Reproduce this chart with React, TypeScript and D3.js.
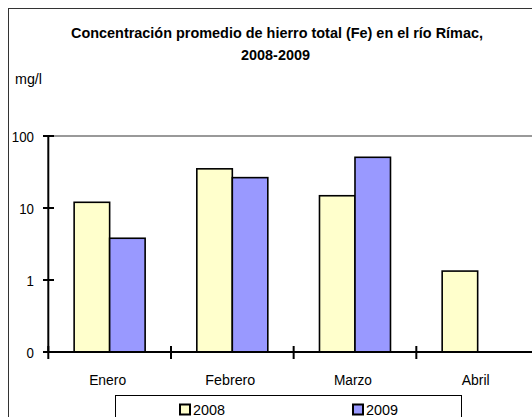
import React from "react";
import * as d3 from "d3";

const categories = ["Enero", "Febrero", "Marzo", "Abril"];
const seriesNames = ["2008", "2009"];
const values2008: (number | null)[] = [12, 35, 14.8, 1.33];
const values2009: (number | null)[] = [3.8, 26.4, 50.6, null];
const yTickValues = [0.1, 1, 10, 100];
const yTickLabels = ["0", "1", "10", "100"];
const colors = ["#FFFFCC", "#9999FF"];

const FONT = "'Liberation Sans', Arial, sans-serif";

export default function App() {
  const W = 532, H = 417;
  const left = 48.3, right = 539, top = 136, bottom = 352;
  const y = d3.scaleLog().domain([0.1, 100]).range([bottom, top]);
  const x = d3.scaleBand<string>().domain(categories).range([left, right]).paddingInner(0).paddingOuter(0);
  const x1 = d3.scaleBand<string>().domain(seriesNames).range([0, x.bandwidth()]).paddingInner(0).paddingOuter(0.728);
  const series = [values2008, values2009];
  const catWidths: Record<string, number> = { Enero: 37, Febrero: 50, Marzo: 38, Abril: 28 };
  const catCenters = categories.map((c) => (x(c) as number) + x.bandwidth() / 2 - 2);
  const tickBoundaries = d3.range(categories.length + 1).map((i) => left + i * x.step());

  return (
    <svg width={W} height={H} style={{ position: "absolute", left: 0, top: 0, display: "block", background: "#fff" }}>
      <rect x={0} y={0} width={W} height={H} fill="#fff" />
      <rect x={8.5} y={8.5} width={700} height={700} fill="none" stroke="#333" strokeWidth={1} />
      <text x={277} y={37.5} textAnchor="middle" fontFamily={FONT} fontWeight="bold" fontSize={15.5}
        textLength={412} lengthAdjust="spacingAndGlyphs">
        Concentración promedio de hierro total (Fe) en el río Rímac,
      </text>
      <text x={275.5} y={60} textAnchor="middle" fontFamily={FONT} fontWeight="bold" fontSize={15.5}
        textLength={69} lengthAdjust="spacingAndGlyphs">
        2008-2009
      </text>
      <text x={15} y={84} fontFamily={FONT} fontSize={15.5} textLength={27} lengthAdjust="spacingAndGlyphs">mg/l</text>

      <line x1={left} x2={W} y1={top} y2={top} stroke="#999" strokeWidth={2} />

      {series.map((vals, si) =>
        categories.map((c, ci) => {
          const v = vals[ci];
          if (v == null) return null;
          const bx = (x(c) as number) + (x1(seriesNames[si]) as number);
          return (
            <rect key={`${si}-${ci}`} x={bx} y={y(v)} width={x1.bandwidth()} height={bottom - y(v)}
              fill={colors[si]} stroke="#000" strokeWidth={1.6} />
          );
        })
      )}

      <line x1={left} x2={left} y1={top} y2={bottom} stroke="#000" strokeWidth={2} />
      {yTickValues.map((v, i) => (
        <g key={v}>
          <line x1={43} x2={54} y1={y(v)} y2={y(v)} stroke="#000" strokeWidth={2} />
          <text x={34} y={y(v) + 5.7} textAnchor="end" fontFamily={FONT} fontSize={15.5}
            textLength={yTickLabels[i].length * 7.4} lengthAdjust="spacingAndGlyphs">
            {yTickLabels[i]}
          </text>
        </g>
      ))}
      <line x1={left} x2={W} y1={bottom} y2={bottom} stroke="#000" strokeWidth={2} />
      {tickBoundaries.map((tx, i) => (
        <line key={i} x1={tx} x2={tx} y1={346} y2={359} stroke="#000" strokeWidth={2} />
      ))}
      {categories.map((c, i) => (
        <text key={c} x={catCenters[i]} y={384.5} textAnchor="middle" fontFamily={FONT} fontSize={15.5}
          textLength={catWidths[c]} lengthAdjust="spacingAndGlyphs">
          {c}
        </text>
      ))}

      <rect x={115.5} y={395.5} width={346} height={40} fill="#fff" stroke="#000" strokeWidth={1} />
      {seriesNames.map((s, i) => {
        const lx = i === 0 ? 180 : 353;
        return (
          <g key={s}>
            <rect x={lx} y={404.5} width={10} height={10} fill={colors[i]} stroke="#000" strokeWidth={2} />
            <text x={lx + 13} y={415} fontFamily={FONT} fontSize={15} textLength={32} lengthAdjust="spacingAndGlyphs">{s}</text>
          </g>
        );
      })}
    </svg>
  );
}
